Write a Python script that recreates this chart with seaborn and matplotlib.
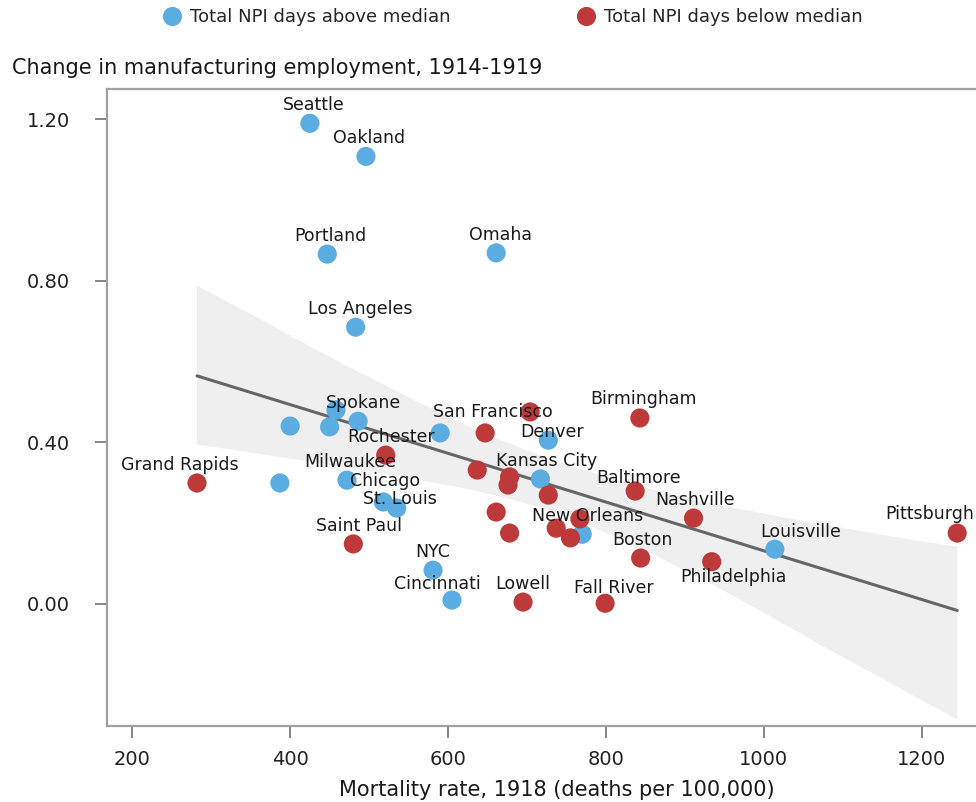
import numpy as np
import pandas as pd
import matplotlib
matplotlib.use("Agg")
import matplotlib.pyplot as plt
import seaborn as sns

# ---------------- data ----------------
city = ["Seattle", "Oakland", "Portland", "Omaha", "Los Angeles", "Spokane", "", "", "",
        "", "Denver", "", "Milwaukee", "Chicago", "St. Louis", "NYC", "Cincinnati",
        "Kansas City", "New Orleans", "Louisville",
        "Grand Rapids", "Saint Paul", "Rochester", "San Francisco", "", "", "", "", "",
        "", "", "", "", "", "Lowell", "Fall River", "Birmingham", "Baltimore", "Boston",
        "Nashville", "Philadelphia", "Pittsburgh"]
mortality = [425, 496, 447, 661, 483, 486, 458, 450, 400,
             590, 727, 387, 472, 518, 535, 581, 605,
             717, 770, 1014,
             282, 480, 521, 647, 704, 637, 678, 676, 727,
             661, 678, 737, 767, 755, 695, 799, 843, 837, 844,
             911, 934, 1245]
emp_change = [1.190, 1.108, 0.866, 0.869, 0.685, 0.452, 0.480, 0.438, 0.440,
              0.423, 0.405, 0.299, 0.306, 0.252, 0.237, 0.083, 0.009,
              0.309, 0.172, 0.135,
              0.299, 0.148, 0.368, 0.423, 0.475, 0.331, 0.314, 0.294, 0.269,
              0.227, 0.175, 0.187, 0.210, 0.163, 0.004, 0.001, 0.460, 0.279, 0.113,
              0.212, 0.104, 0.175]
groups = ["Total NPI days above median", "Total NPI days below median"]
npi_group = [groups[0]] * 20 + [groups[1]] * 22
x_ticks = [200, 400, 600, 800, 1000, 1200]
y_ticks = [0.0, 0.4, 0.8, 1.2]

df = pd.DataFrame({"city": city, "mortality": mortality,
                   "emp_change": emp_change, "npi": npi_group})

# label offsets (pixels, relative to the point) -- layout only
LABEL_OFFSETS = {
    "Seattle": (4, 18.5), "Oakland": (3, 18.5), "Portland": (3.5, 18), "Omaha": (4, 18),
    "Los Angeles": (5, 18), "Spokane": (5, 18), "San Francisco": (8, 21), "Denver": (4, 8),
    "Rochester": (5, 18), "Birmingham": (4, 18.5), "Grand Rapids": (-17, 18),
    "Milwaukee": (3, 18), "Kansas City": (6, 18), "Chicago": (2, 21), "Baltimore": (3, 13),
    "St. Louis": (3, 9), "Nashville": (2, 18), "New Orleans": (5, 18), "Saint Paul": (6, 18),
    "Boston": (2, 18), "Louisville": (26, 17.5), "Pittsburgh": (-28, 19), "NYC": (0, 18),
    "Philadelphia": (21.5, -15.5), "Cincinnati": (-15, 16), "Lowell": (0, 18),
    "Fall River": (9, 15),
}

BLUE = "#5BACE0"
RED = "#BE3A3A"

sns.set_theme(style="white")
plt.rcParams["font.family"] = ["DejaVu Sans"]

W, H = 976, 802
fig = plt.figure(figsize=(W / 100, H / 100), dpi=100)
ax = fig.add_axes([106.7 / W, 1 - 726 / H, (W - 106.7) / W, (726 - 89) / H])

sns.regplot(data=df, x="mortality", y="emp_change", scatter=False, ci=95,
            n_boot=4000, seed=3,
            color="#666666", line_kws={"lw": 2.2}, ax=ax)
for coll in ax.collections:
    coll.set_alpha(0.1)
    coll.set_edgecolor("none")

sns.scatterplot(data=df, x="mortality", y="emp_change", hue="npi", hue_order=groups,
                palette=[BLUE, RED], s=190, edgecolor="none", linewidth=0, ax=ax,
                zorder=3)

for name, xv, yv in zip(city, mortality, emp_change):
    if not name:
        continue
    dx, dy = LABEL_OFFSETS[name]
    ax.annotate(name, xy=(xv, yv), xytext=(dx, dy), textcoords="offset pixels",
                ha="center", va="center", fontsize=12.5, color="#1a1a1a", zorder=5)

ax.set_xlim(167.6, 1268.8)
ax.set_ylim(-0.303, 1.275)
ax.set_xticks(x_ticks)
ax.set_xticklabels([str(t) for t in x_ticks])
ax.set_yticks(y_ticks)
ax.set_yticklabels([f"{t:.2f}" for t in y_ticks])
ax.set_xlabel("")
ax.set_ylabel("")

for side in ["left", "bottom", "top"]:
    ax.spines[side].set_visible(True)
    ax.spines[side].set_color("#a0a0a0")
    ax.spines[side].set_linewidth(1.6)
ax.spines["right"].set_visible(False)

ax.tick_params(axis="both", direction="out", length=8.5, width=1.1, color="#666666",
               labelsize=14, labelcolor="#222222", left=True, bottom=True)
ax.tick_params(axis="x", pad=9)
ax.tick_params(axis="y", pad=18)

fig.text(12 / W, 1 - 68 / H, "Change in manufacturing employment, 1914-1919",
         ha="left", va="center", fontsize=15, color="#1a1a1a")
fig.text(557 / W, 1 - 790 / H, "Mortality rate, 1918 (deaths per 100,000)",
         ha="center", va="center", fontsize=15, color="#1a1a1a")

sns.move_legend(ax, "center left", bbox_to_anchor=(163 / W, 1 - 17 / H),
                bbox_transform=fig.transFigure, ncol=2, frameon=False, title=None,
                handlelength=1.0, handletextpad=0.5, columnspacing=7.0, borderpad=0,
                borderaxespad=0, fontsize=13)

fig.savefig("out.png", dpi=100, facecolor="white")
